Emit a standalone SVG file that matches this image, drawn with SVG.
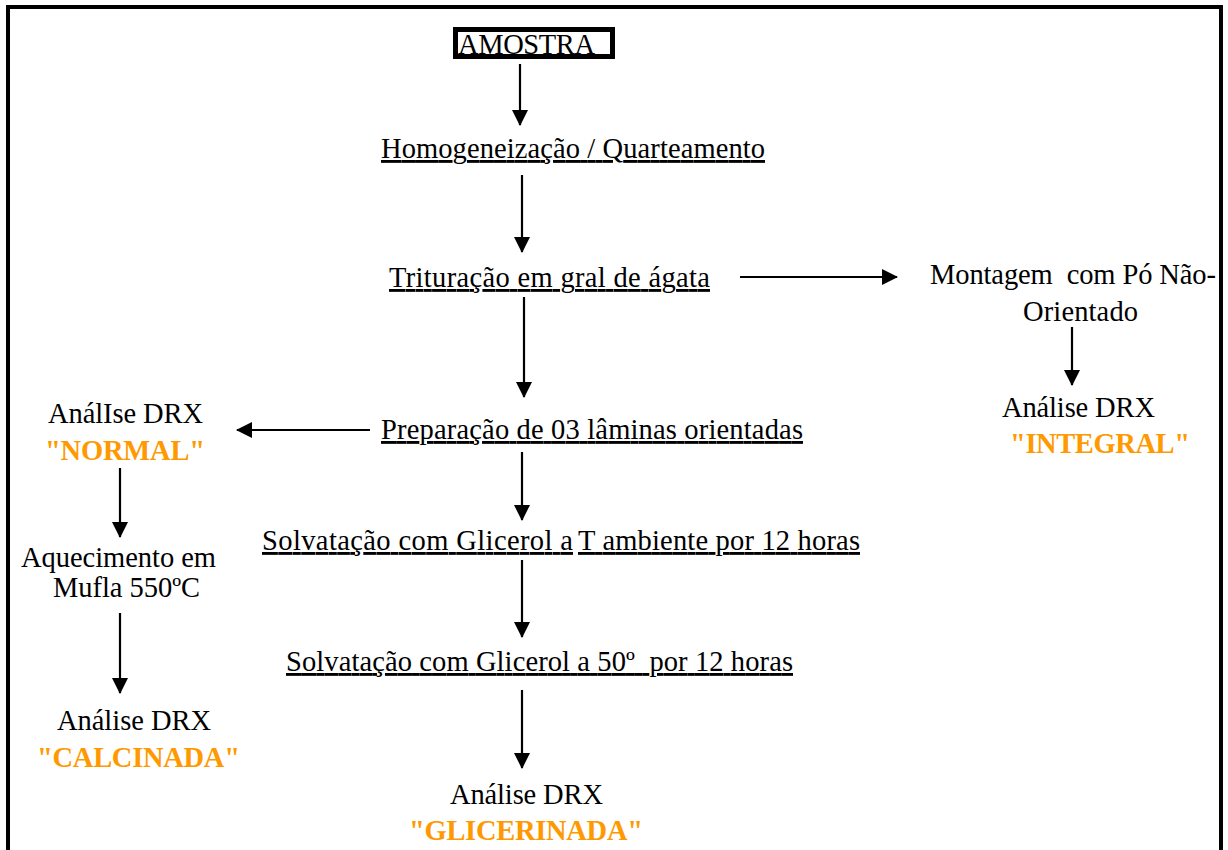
<svg xmlns="http://www.w3.org/2000/svg" width="1228" height="850" viewBox="0 0 1228 850">
<defs>
<marker id="ah" markerUnits="userSpaceOnUse" markerWidth="17" markerHeight="17" refX="15" refY="8.5" orient="auto">
<path d="M0,0.5 L16,8.5 L0,16.5 z" fill="#000"/>
</marker>
</defs>
<rect width="1228" height="850" fill="#fff"/>
<path d="M8,852 V7 H1221 V852" fill="none" stroke="#000" stroke-width="4"/>

<g id="amostra">
<rect x="455.5" y="29.5" width="157" height="27" fill="#fff" stroke="#000" stroke-width="5"/>
<text style="font-family:'Liberation Serif',serif;font-size:28.5px" x="458" y="54" textLength="137">AMOSTRA</text>
</g>
<g id="homog"><text style="font-family:'Liberation Serif',serif;font-size:28.5px;text-decoration:underline" x="381" y="158" textLength="384">Homogeneização / Quarteamento</text></g>
<g id="tritur"><text style="font-family:'Liberation Serif',serif;font-size:28.5px;text-decoration:underline" x="389" y="287" textLength="321">Trituração em gral de ágata</text></g>
<g id="montagem">
<text style="font-family:'Liberation Serif',serif;font-size:28.5px" x="930" y="284" textLength="286">Montagem&#160; com Pó Não-</text>
<text style="font-family:'Liberation Serif',serif;font-size:28.5px" x="1023" y="321" textLength="115">Orientado</text>
</g>
<g id="integral">
<text style="font-family:'Liberation Serif',serif;font-size:28.5px" x="1002" y="417" textLength="153">Análise DRX</text>
<text style="font-family:'Liberation Serif',serif;font-size:28.5px;font-weight:bold" fill="#FF9900" x="1010" y="453" textLength="180">"INTEGRAL"</text>
</g>
<g id="prep"><text style="font-family:'Liberation Serif',serif;font-size:28.5px;text-decoration:underline" x="381" y="439" textLength="422">Preparação de 03 lâminas orientadas</text></g>
<g id="normal">
<text style="font-family:'Liberation Serif',serif;font-size:28.5px" x="48" y="423" textLength="155">AnálIse DRX</text>
<text style="font-family:'Liberation Serif',serif;font-size:28.5px;font-weight:bold" fill="#FF9900" x="45" y="460" textLength="160">"NORMAL"</text>
</g>
<g id="aquec">
<text style="font-family:'Liberation Serif',serif;font-size:28.5px" x="21" y="567" textLength="195">Aquecimento em</text>
<text style="font-family:'Liberation Serif',serif;font-size:28.5px" x="53" y="597" textLength="147">Mufla 550ºC</text>
</g>
<g id="calcinada">
<text style="font-family:'Liberation Serif',serif;font-size:28.5px" x="57" y="730" textLength="154">Análise DRX</text>
<text style="font-family:'Liberation Serif',serif;font-size:28.5px;font-weight:bold" fill="#FF9900" x="37" y="767" textLength="203">"CALCINADA"</text>
</g>
<g id="solv1">
<text style="font-family:'Liberation Serif',serif;font-size:28.5px;text-decoration:underline" x="262" y="550" textLength="311">Solvatação com Glicerol a</text>
<text style="font-family:'Liberation Serif',serif;font-size:28.5px;text-decoration:underline" x="578" y="550" textLength="282">T ambiente por 12 horas</text>
</g>
<g id="solv2"><text style="font-family:'Liberation Serif',serif;font-size:28.5px;text-decoration:underline" x="286" y="671" textLength="507">Solvatação com Glicerol a 50º&#160; por 12 horas</text></g>
<g id="glicerinada">
<text style="font-family:'Liberation Serif',serif;font-size:28.5px" x="450" y="804" textLength="153">Análise DRX</text>
<text style="font-family:'Liberation Serif',serif;font-size:28.5px;font-weight:bold" fill="#FF9900" x="409" y="840" textLength="234">"GLICERINADA"</text>
</g>

<g id="connectors" stroke="#000" stroke-width="2.2" fill="none" marker-end="url(#ah)">
<line x1="520" y1="64" x2="520" y2="125"/>
<line x1="522" y1="175" x2="522" y2="252"/>
<line x1="524" y1="297" x2="524" y2="397"/>
<line x1="740" y1="277" x2="897" y2="277"/>
<line x1="1072" y1="327" x2="1072" y2="385"/>
<line x1="370" y1="430" x2="237" y2="430"/>
<line x1="522" y1="452" x2="522" y2="520"/>
<line x1="522" y1="560" x2="522" y2="637"/>
<line x1="522" y1="690" x2="522" y2="768"/>
<line x1="120" y1="468" x2="120" y2="537"/>
<line x1="120" y1="613" x2="120" y2="693"/>
</g>
</svg>
